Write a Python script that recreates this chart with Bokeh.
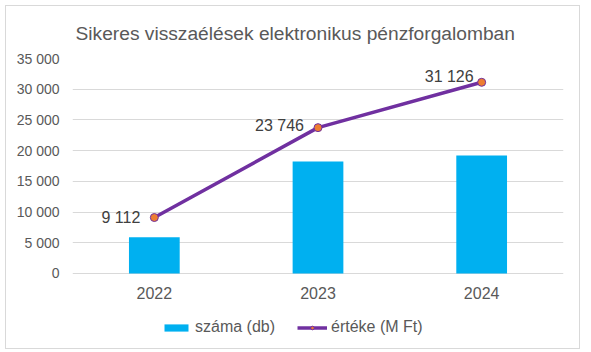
from bokeh.plotting import figure
from bokeh.models import (FactorRange, Range1d, ColumnDataSource, Legend, LegendItem,
                          Title, FixedTicker)
from bokeh.embed import file_html
from bokeh.resources import INLINE
from bokeh.core.properties import value

# ---- data ----
years = ["2022", "2023", "2024"]
count_db = [5900, 18250, 19200]
value_mft = [9112, 23746, 31126]
value_labels = ["9 112", "23 746", "31 126"]
y_ticks = [0, 5000, 10000, 15000, 20000, 25000, 30000, 35000]
y_tick_labels = ["0", "5 000", "10 000", "15 000", "20 000", "25 000", "30 000", "35 000"]
series_names = ["száma (db)", "értéke (M Ft)"]
title_text = "Sikeres visszaélések elektronikus pénzforgalomban"

# ---- styling ----
FONT = "Liberation Sans"
label_dx = [-14, -14, -8]
label_dy = [0, -2, -6]
Y_MIN = -10907   # frame extends below zero to host category labels and legend
Y_MAX = 35000

src = ColumnDataSource(dict(year=years, cnt=count_db, val=value_mft,
                            lab=value_labels, dx=label_dx, dy=label_dy))

p = figure(x_range=FactorRange(*years), y_range=Range1d(Y_MIN, Y_MAX),
           width=575, height=344, output_backend="svg", toolbar_location=None,
           min_border_left=66, min_border_right=18, min_border_top=52,
           min_border_bottom=10, background_fill_color="white",
           border_fill_color="white", outline_line_color=None)
p.styles = {"margin-left": "5px", "margin-top": "5px", "border": "1px solid #D9D9D9"}

bars = p.vbar(x="year", top="cnt", width=0.31, source=src,
              fill_color="#00B0F0", line_color=None)
line = p.line(x="year", y="val", source=src, line_color="#7030A0", line_width=3.5)
pts = p.scatter(x="year", y="val", source=src, size=8, fill_color="#ED7D31",
                line_color="#7030A0", line_width=1)
p.text(x="year", y="val", text="lab", source=src, x_offset="dx", y_offset="dy",
       text_align="right", text_baseline="middle", text_font=value(FONT),
       text_font_size="16px", text_color="#404040")

# category labels under the zero line
p.text(x="year", y=0, text="year", source=src, y_offset=20,
       text_align="center", text_baseline="middle", text_font=value(FONT),
       text_font_size="16px", text_color="#595959")

# axes
p.xaxis.visible = False
yax = p.yaxis[0]
yax.axis_line_color = None
yax.major_tick_line_color = None
yax.minor_tick_line_color = None
yax.major_tick_out = 0
yax.major_label_text_font = FONT
yax.major_label_text_color = "#595959"
yax.major_label_text_font_size = "14px"
yax.major_label_standoff = 13
yax.ticker = FixedTicker(ticks=y_ticks)
yax.major_label_overrides = dict(zip(y_ticks, y_tick_labels))

p.xgrid.grid_line_color = None
p.ygrid.grid_line_color = "#D9D9D9"
p.ygrid.ticker = FixedTicker(ticks=y_ticks)

legend = Legend(items=[LegendItem(label=series_names[0], renderers=[bars]),
                       LegendItem(label=series_names[1], renderers=[line, pts])],
                orientation="horizontal", location=(89, 4),
                glyph_width=30, glyph_height=9, label_standoff=4, spacing=22,
                padding=0, margin=0, border_line_color=None,
                background_fill_alpha=0, label_text_font=FONT,
                label_text_font_size="16px", label_text_color="#595959")
p.add_layout(legend)

title = Title(text=title_text, align="left", offset=3, standoff=29,
              text_font=FONT, text_font_size="19.2px", text_color="#595959",
              text_font_style="normal")
p.add_layout(title, "above")

open("out.html", "w").write(file_html(p, INLINE))
